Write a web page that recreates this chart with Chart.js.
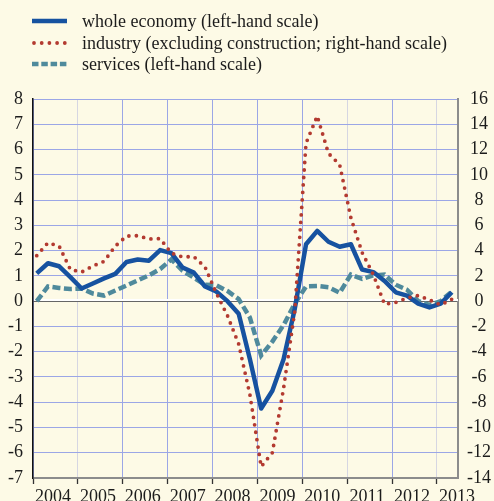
<!DOCTYPE html>
<html>
<head>
<meta charset="utf-8">
<script src="https://cdn.jsdelivr.net/npm/chart.js@4"></script>
<style>
  html, body { margin: 0; padding: 0; background: #fdfae6; }
  #wrap { position: relative; width: 494px; height: 501px; overflow: hidden; }
  #chart { position: absolute; left: 0; top: 0; }
  .legend { position: absolute; left: 0; top: 0; font-family: 'Liberation Serif', serif; font-size: 18px; color: #1c1c1c; }
  .row { position: absolute; left: 32px; height: 22px; display: flex; align-items: center; white-space: nowrap; }
  .row svg { width: 36px; height: 8px; margin-right: 14px; }
</style>
</head>
<body>
<div id="wrap">
  <canvas id="chart" width="494" height="501"></canvas>
  <div class="legend">
    <div class="row" style="top:10px">
      <svg viewBox="0 0 36 8"><line x1="0" y1="4" x2="35" y2="4" stroke="#1652a0" stroke-width="4.5"/></svg>
      <span>whole economy (left-hand scale)</span>
    </div>
    <div class="row" style="top:32px">
      <svg viewBox="0 0 36 8"><line x1="2" y1="4" x2="35" y2="4" stroke="#b33a30" stroke-width="3.8" stroke-linecap="round" stroke-dasharray="0 7.7"/></svg>
      <span>industry (excluding construction; right-hand scale)</span>
    </div>
    <div class="row" style="top:53px">
      <svg viewBox="0 0 36 8"><line x1="0" y1="4" x2="35" y2="4" stroke="#4f8a9c" stroke-width="4.5" stroke-dasharray="6.5 2.8"/></svg>
      <span>services (left-hand scale)</span>
    </div>
  </div>
</div>
<script>
// quarterly series, 2004 Q1 to 2013 Q2
const startYear = 2004;
const wholeEconomy = [1.1, 1.5, 1.38, 0.95, 0.5, 0.7, 0.9, 1.08, 1.55, 1.65, 1.6, 2.02,
  1.9, 1.33, 1.13, 0.58, 0.38, 0.0, -0.5, -2.3, -4.25, -3.55, -2.3, -0.3,
  2.25, 2.78, 2.35, 2.15, 2.25, 1.25, 1.15, 0.8, 0.35, 0.22, -0.1, -0.25, -0.1, 0.35];
const industry = [3.6, 4.62, 4.35, 2.5, 2.3, 2.78, 3.15, 4.35, 5.15, 5.18, 4.92, 4.95,
  3.8, 3.5, 3.53, 2.7, 0.65, -1.15, -3.4, -7.4, -13.1, -12.0, -6.9, -0.8,
  12.5, 14.65, 11.7, 10.8, 6.6, 3.85, 2.1, -0.25, -0.1, 0.25, 0.45, 0.1, -0.3, 0.15];
const services = [0.0, 0.58, 0.52, 0.48, 0.5, 0.3, 0.22, 0.42, 0.62, 0.82, 1.02, 1.27,
  1.65, 1.2, 0.93, 0.65, 0.63, 0.4, 0.08, -0.65, -2.15, -1.6, -0.95, -0.1,
  0.58, 0.6, 0.55, 0.33, 1.05, 0.88, 1.02, 1.05, 0.65, 0.45, 0.0, -0.15, 0.0, 0.38];

const yearTicks = [2004, 2005, 2006, 2007, 2008, 2009, 2010, 2011, 2012, 2013];
const lightYears = [2005, 2011, 2013];
const leftTicks = [-7, -6, -5, -4, -3, -2, -1, 0, 1, 2, 3, 4, 5, 6, 7, 8];
const rightTicks = [-14, -12, -10, -8, -6, -4, -2, 0, 2, 4, 6, 8, 10, 12, 14, 16];

const toPoints = arr => arr.map((v, i) => ({ x: startYear + i / 4 + 1 / 12, y: v }));

Chart.defaults.font.family = "'Liberation Serif', serif";
Chart.defaults.font.size = 18;
Chart.defaults.color = '#1c1c1c';

// white rule sitting just above the zero line
const zeroBand = {
  id: 'zeroBand',
  beforeDatasetsDraw(chart) {
    const { ctx, chartArea, scales } = chart;
    const y = Math.round(scales.yLeft.getPixelForValue(0));
    ctx.save();
    ctx.fillStyle = '#ffffff';
    ctx.fillRect(chartArea.left + 1, y - 2, chartArea.right - chartArea.left - 1, 2);
    ctx.restore();
  }
};

new Chart(document.getElementById('chart').getContext('2d'), {
  type: 'line',
  data: {
    datasets: [
      {
        label: 'industry (excluding construction; right-hand scale)',
        data: toPoints(industry),
        yAxisID: 'yRight',
        borderColor: '#b33a30',
        borderWidth: 3.8,
        borderDash: [0, 7.5],
        borderCapStyle: 'round',
        order: 0
      },
      {
        label: 'whole economy (left-hand scale)',
        data: toPoints(wholeEconomy),
        yAxisID: 'yLeft',
        borderColor: '#1652a0',
        borderWidth: 4.5,
        borderJoinStyle: 'round',
        order: 1
      },
      {
        label: 'services (left-hand scale)',
        data: toPoints(services),
        yAxisID: 'yLeft',
        borderColor: '#4f8a9c',
        borderWidth: 4.5,
        borderDash: [8, 3.5],
        order: 2
      }
    ]
  },
  options: {
    responsive: false,
    animation: false,
    devicePixelRatio: 1,
    layout: { padding: { top: 99, left: 0, right: 0, bottom: 0 } },
    elements: { point: { radius: 0 }, line: { tension: 0, fill: false } },
    plugins: { legend: { display: false }, tooltip: { enabled: false } },
    scales: {
      x: {
        type: 'linear',
        position: 'bottom',
        min: 2004,
        max: 2013.47,
        afterBuildTicks: s => { s.ticks = yearTicks.map(v => ({ value: v })); },
        afterFit: s => { s.height = 23; },
        ticks: { autoSkip: false, maxRotation: 0, labelOffset: 20, padding: 2, callback: v => String(v) },
        grid: {
          color: c => lightYears.includes(c.tick && c.tick.value) ? '#d6d6e2' : '#9ba6e6',
          lineWidth: 1,
          tickLength: 6,
          tickColor: '#333333',
          tickWidth: 1.3
        },
        border: { color: '#8c8c8c', width: 2 }
      },
      yLeft: {
        position: 'left',
        min: -7,
        max: 8,
        afterBuildTicks: s => { s.ticks = leftTicks.map(v => ({ value: v })); },
        afterFit: s => { s.width = 33; },
        ticks: { padding: 10, autoSkip: false },
        grid: {
          color: c => (c.tick && c.tick.value === 0) ? '#666666' : '#9ba6e6',
          lineWidth: 1,
          drawTicks: false
        },
        border: { color: '#111111', width: 1.5 }
      },
      yRight: {
        position: 'right',
        min: -14,
        max: 16,
        afterBuildTicks: s => { s.ticks = rightTicks.map(v => ({ value: v })); },
        afterFit: s => { s.width = 36; },
        ticks: { padding: 9, crossAlign: 'center', autoSkip: false },
        grid: { drawOnChartArea: false, drawTicks: false },
        border: { color: '#8c8c8c', width: 2 }
      }
    }
  },
  plugins: [zeroBand]
});
</script>
</body>
</html>
